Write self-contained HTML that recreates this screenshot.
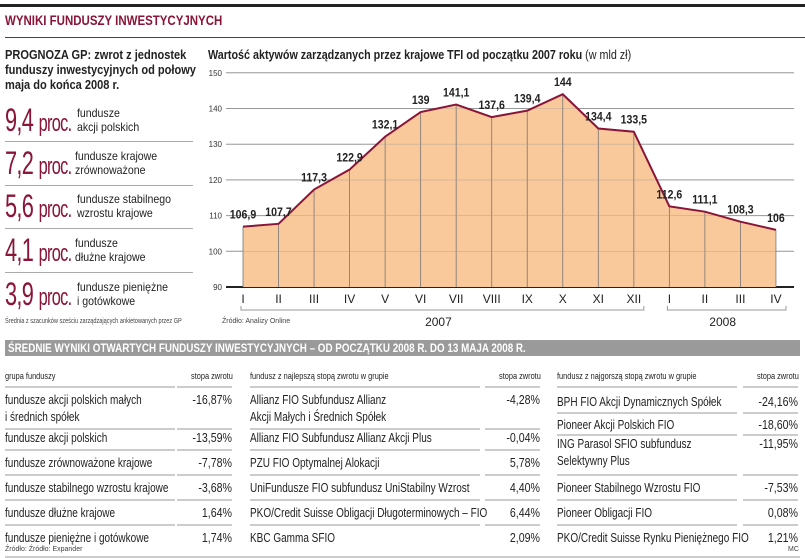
<!DOCTYPE html>
<html><head><meta charset="utf-8">
<style>
body{margin:0;width:805px;height:558px;background:#fff;font-family:"Liberation Sans",sans-serif;position:relative;overflow:hidden;color:#222}
.a{position:absolute;white-space:nowrap}
.big{font-size:32px;color:#8a1538;letter-spacing:-1px;transform:scaleX(0.68);transform-origin:0 0}
.big span{font-size:24px;letter-spacing:-1px}
.lbl{font-size:12px;line-height:14px;color:#222;transform:scaleX(0.88);transform-origin:0 0}
.sep{position:absolute;left:5px;width:188px;height:1px;background:#aaa}
.tr{font-size:12.5px;color:#222}
.hl{position:absolute;height:2px;background:#ccc}
</style></head><body>
<div class="a" style="left:0;top:4px;width:805px;height:3px;background:#222"></div>
<div class="a" style="left:5px;top:12px;font-size:14px;font-weight:bold;color:#8a1538;transform:scaleX(0.82);transform-origin:0 0">WYNIKI FUNDUSZY INWESTYCYJNYCH</div>
<div class="a" style="left:5px;top:37px;width:800px;height:1px;background:#444"></div>

<div class="a" style="left:5px;top:47px;font-size:13px;font-weight:bold;line-height:15px;transform:scaleX(0.85);transform-origin:0 0">PROGNOZA GP: zwrot z jednostek<br>funduszy inwestycyjnych od połowy<br>maja do końca 2008 r.</div>

<div class="a big" style="left:5px;top:102px">9,4 <span>proc.</span></div>
<div class="a lbl" style="left:77px;top:106px">fundusze<br>akcji polskich</div>
<div class="sep" style="top:141px"></div>
<div class="a big" style="left:5px;top:145px">7,2 <span>proc.</span></div>
<div class="a lbl" style="left:75px;top:149px">fundusze krajowe<br>zrównoważone</div>
<div class="sep" style="top:185px"></div>
<div class="a big" style="left:5px;top:188px">5,6 <span>proc.</span></div>
<div class="a lbl" style="left:77px;top:192px">fundusze stabilnego<br>wzrostu krajowe</div>
<div class="sep" style="top:228px"></div>
<div class="a big" style="left:5px;top:232px">4,1 <span>proc.</span></div>
<div class="a lbl" style="left:75px;top:236px">fundusze<br>dłużne krajowe</div>
<div class="sep" style="top:272px"></div>
<div class="a big" style="left:5px;top:276px">3,9 <span>proc.</span></div>
<div class="a lbl" style="left:77px;top:280px">fundusze pieniężne<br>i gotówkowe</div>
<div class="a" style="left:5px;top:318px;font-size:7px;color:#444;transform:scaleX(0.8);transform-origin:0 0">Średnia z szacunków sześciu zarządzających ankietowanych przez GP</div>

<div class="a" style="left:208px;top:48px;font-size:12.5px;font-weight:bold;transform:scaleX(0.86);transform-origin:0 0">Wartość aktywów zarządzanych przez krajowe TFI od początku 2007 roku <span style="font-weight:normal">(w mld zł)</span></div>
<svg id="chart" class="a" style="left:0;top:0" width="805" height="340"></svg>
<div class="a" style="left:222px;top:318px;font-size:7px;color:#444">Źródło: Analizy Online</div>

<div class="a" style="left:5px;top:340px;width:795px;height:16px;background:#9a9a9a"></div>
<div class="a" style="left:8px;top:341px;font-size:12px;font-weight:bold;color:#fff;transform:scaleX(0.82);transform-origin:0 0">ŚREDNIE WYNIKI OTWARTYCH FUNDUSZY INWESTYCYJNYCH – OD POCZĄTKU 2008 R. DO 13 MAJA 2008 R.</div>
<div id="tbl"></div>
<div class="a" style="left:5px;top:546px;font-size:7px;color:#444">Źródło: Źródło: Expander</div>
<div class="a" style="left:788px;top:546px;font-size:7px;color:#444">MC</div>
<div class="a" style="left:5px;top:556px;width:795px;height:2px;background:#ccc"></div>

<script>
const months=["I","II","III","IV","V","VI","VII","VIII","IX","X","XI","XII","I","II","III","IV"];
const values=[106.9,107.7,117.3,122.9,132.1,139,141.1,137.6,139.4,144,134.4,133.5,112.6,111.1,108.3,106];
const valueLabels=["106,9","107,7","117,3","122,9","132,1","139","141,1","137,6","139,4","144","134,4","133,5","112,6","111,1","108,3","106"];
const yTicks=[90,100,110,120,130,140,150];
const NS="http://www.w3.org/2000/svg";
const svg=document.getElementById('chart');
const x=i=>243+i*35.53;
const y=v=>287-(v-90)*3.57;
function mk(t,a,p){const e=document.createElementNS(NS,t);for(const k in a)e.setAttribute(k,a[k]);(p||svg).appendChild(e);return e;}
yTicks.forEach(t=>{
  const l=mk('line',{x1:226,x2:794,y1:y(t),y2:y(t),stroke:t==90?'#222':'#999','stroke-width':t==90?2:1});
  
  
  const tx=mk('text',{x:222,y:y(t)+3,'font-size':8,'text-anchor':'end',fill:'#333'});tx.textContent=t;
  
  
});
let d='M'+x(0)+','+y(90);
values.forEach((v,i)=>d+=' L'+x(i)+','+y(v));
d+=' L'+x(values.length-1)+','+y(90)+'Z';
const area=mk('path',{d:d,fill:'#f9c89b'});


values.forEach((v,i)=>{
  const l=mk('line',{x1:x(i),x2:x(i),y1:y(v),y2:y(90),stroke:'#777','stroke-width':0.8});
  
  
});
yTicks.slice(1).forEach(t=>{mk('line',{x1:226,x2:794,y1:y(t),y2:y(t),stroke:'#999','stroke-width':0.6,'stroke-opacity':0.6});});
const line=mk('polyline',{points:values.map((v,i)=>x(i)+','+y(v)).join(' '),fill:'none',stroke:'#8a1538','stroke-width':2});


values.forEach((v,i)=>{
  const t=mk('text',{x:x(i),y:y(v)-8,'font-size':12,'font-weight':'bold','text-anchor':'middle',fill:'#222',transform:`translate(${x(i)*0.12},0) scale(0.88,1)`});
  t.textContent=valueLabels[i];
  
  
  const m=mk('text',{x:x(i),y:303,'font-size':12,'text-anchor':'middle',fill:'#222'});
  m.textContent=months[i];
  
  
});
[[0,11,'2007'],[12,15,'2008']].forEach(([a,b,lab])=>{
  const p=mk('path',{d:`M${x(a)-2},306 V310 H${x(b)+10} V306`,fill:'none',stroke:'#999'});
  
  
  const t=mk('text',{x:(x(a)+x(b))/2,y:326,'font-size':12,'text-anchor':'middle',fill:'#222'});t.textContent=lab;
  
  
});

const tbl=document.getElementById('tbl');
function add(html,l,t,extra){const e=document.createElement('div');e.className='a tr';e.style.left=l+'px';e.style.top=t+'px';if(extra)e.style.cssText+=extra;e.innerHTML=html;tbl.appendChild(e);return e;}
function rule(l,t,w){const e=document.createElement('div');e.className='hl';e.style.left=l+'px';e.style.top=t+'px';e.style.width=w+'px';tbl.appendChild(e);return e;}
const cols=[[5,170,232],[250,230,540],[557,180,798]];
const hdr=[["grupa funduszy","stopa zwrotu"],["fundusz z najlepszą stopą zwrotu w grupie","stopa zwrotu"],["fundusz z najgorszą stopą zwrotu w grupie","stopa zwrotu"]];
cols.forEach((c,i)=>{
  let e=add(hdr[i][0],c[0],371,'font-size:9px;transform:scaleX(0.82);transform-origin:0 0');
  
  
  e=add(hdr[i][1],c[2]-50,371,'font-size:9px;width:50px;text-align:right;transform:scaleX(0.82);transform-origin:100% 0');
  
  
  rule(c[0],386,c[1]);rule(c[2]-55,386,55);
});
const c1=[["fundusze akcji polskich małych<br>i średnich spółek","-16,87%",392,428],["fundusze akcji polskich","-13,59%",430,449],["fundusze zrównoważone krajowe","-7,78%",455,474],["fundusze stabilnego wzrostu krajowe","-3,68%",480,499],["fundusze dłużne krajowe","1,64%",505,524],["fundusze pieniężne i gotówkowe","1,74%",530,0]];
const c2=[["Allianz FIO Subfundusz Allianz<br>Akcji Małych i Średnich Spółek","-4,28%",392,428],["Allianz FIO Subfundusz Allianz Akcji Plus","-0,04%",430,449],["PZU FIO Optymalnej Alokacji","5,78%",455,474],["UniFundusze FIO subfundusz UniStabilny Wzrost","4,40%",480,499],["PKO/Credit Suisse Obligacji Długoterminowych – FIO","6,44%",505,524],["KBC Gamma SFIO","2,09%",530,0]];
const c3=[["BPH FIO Akcji Dynamicznych Spółek","-24,16%",394,412],["Pioneer Akcji Polskich FIO","-18,60%",417,434],["ING Parasol SFIO subfundusz<br>Selektywny Plus","-11,95%",436,474],["Pioneer Stabilnego Wzrostu FIO","-7,53%",480,499],["Pioneer Obligacji FIO","0,08%",505,524],["PKO/Credit Suisse Rynku Pieniężnego FIO","1,21%",530,0]];
[c1,c2,c3].forEach((rows,i)=>{const c=cols[i];rows.forEach(r=>{
  let e=add(r[0],c[0],r[2],'line-height:17px;transform:scaleX(0.8);transform-origin:0 0');
  
  
  e=add(r[1],c[2]-60,r[2],'width:60px;text-align:right;line-height:17px;transform:scaleX(0.85);transform-origin:100% 0');
  
  
  if(r[3]){rule(c[0],r[3],c[1]);rule(c[2]-55,r[3],55);}
});});
</script>
</body></html>
